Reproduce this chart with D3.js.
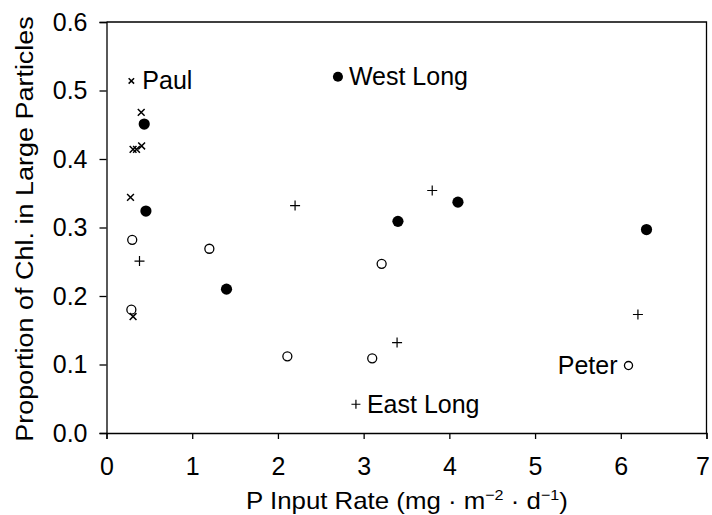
<!DOCTYPE html>
<html>
<head>
<meta charset="utf-8">
<script src="https://cdn.jsdelivr.net/npm/d3@7"></script>
<style>
    body { margin: 0; background: #fff; }
    svg { display: block; }
    text { font-family: "Liberation Sans", Arial, sans-serif; fill: #000; }
</style>
</head>
<body>
<svg id="chart" width="712" height="515"></svg>
<script>
// values
var westLong = [[0.44, 0.451], [0.46, 0.324], [1.40, 0.210], [3.40, 0.309], [4.10, 0.337], [6.30, 0.297]];
var eastLong = [[0.385, 0.251], [2.20, 0.332], [3.80, 0.354], [3.39, 0.132], [6.20, 0.173]];
var paul = [[0.405, 0.468], [0.31, 0.414], [0.35, 0.414], [0.41, 0.419], [0.28, 0.344], [0.31, 0.170]];
var peter = [[0.30, 0.282], [1.20, 0.269], [0.29, 0.180], [3.21, 0.247], [2.11, 0.112], [3.10, 0.109]];

// in-plot labels: name, marker, x, y
var labels = [
    ["Paul", "cross", 0.29, 0.514],
    ["West Long", "dot", 2.70, 0.520],
    ["East Long", "plus", 2.91, 0.042],
    ["Peter", "ring", 6.09, 0.0985]
];

var xTicks = [0, 1, 2, 3, 4, 5, 6, 7];
var yTicks = [0.0, 0.1, 0.2, 0.3, 0.4, 0.5, 0.6];

var svg = d3.select("#chart");

var x = d3.scaleLinear().domain([0, 7]).range([106.5, 706.5]);
var y = d3.scaleLinear().domain([0, 0.6]).range([433, 22]);

// frame (top and right)
svg.append("path")
    .attr("d", "M" + x(0) + "," + y(0.6) + "H" + x(7) + "V" + y(0))
    .attr("fill", "none")
    .attr("stroke", "#000")
    .attr("stroke-width", 1.3);

var xAxis = svg.append("g")
    .attr("transform", "translate(0," + y(0) + ")")
    .call(d3.axisBottom(x).tickValues(xTicks).tickSize(6).tickPadding(18).tickFormat(d3.format("d")));

var yAxis = svg.append("g")
    .attr("transform", "translate(" + x(0) + ",0)")
    .call(d3.axisLeft(y).tickValues(yTicks).tickSize(7).tickPadding(12).tickFormat(d3.format(".1f")));

[xAxis, yAxis].forEach(function (g) {
    g.selectAll("path, line").attr("stroke", "#000").attr("stroke-width", 1.3);
    g.selectAll("text")
        .style("font-size", "25px")
        .style("font-family", "'Liberation Sans', Arial, sans-serif")
        .attr("fill", "#000");
});

// keep the last x label inside the page
xAxis.selectAll(".tick text")
    .attr("dx", function (d) { return d === 7 ? -4 : 0; });

// stretch a title horizontally to the width it has in the figure
function stretch(node, cx, cy, width, rot) {
    var w = node.getBBox().width;
    var sx = width / w;
    d3.select(node).attr("transform",
        "translate(" + cx + "," + cy + ") rotate(" + rot + ") scale(" + sx + ",1)");
}

// axis titles
var xt = svg.append("text")
    .attr("text-anchor", "middle")
    .style("font-size", "24px");
xt.append("tspan").text("P Input Rate (mg \u00b7 m");
xt.append("tspan").attr("dy", -9).style("font-size", "15px").text("\u22122");
xt.append("tspan").attr("dy", 9).text(" \u00b7 d");
xt.append("tspan").attr("dy", -9).style("font-size", "15px").text("\u22121");
xt.append("tspan").attr("dy", 9).text(")");
stretch(xt.node(), 407, 509, 322, 0);

var yt = svg.append("text")
    .attr("text-anchor", "middle")
    .style("font-size", "24px")
    .text("Proportion of Chl. in Large Particles");
stretch(yt.node(), 33, 229, 426, -90);

function marker(sel, kind, s) {
    sel.each(function () {
        var g = d3.select(this);
        if (kind === "dot") {
            g.append("circle").attr("r", 5.6 * s).attr("fill", "#000");
        } else if (kind === "ring") {
            g.append("circle").attr("r", 4.5 * s).attr("fill", "#fff")
                .attr("stroke", "#000").attr("stroke-width", 1.3);
        } else if (kind === "plus") {
            var h = 5 * s;
            g.append("path").attr("d", "M" + (-h) + ",0H" + h + "M0," + (-h) + "V" + h)
                .attr("stroke", "#000").attr("stroke-width", 1.2);
        } else {
            var c = 3.4 * s;
            g.append("path").attr("d", "M" + (-c) + "," + (-c) + "L" + c + "," + c + "M" + (-c) + "," + c + "L" + c + "," + (-c))
                .attr("stroke", "#000").attr("stroke-width", 1.5);
        }
    });
}

var series = [[peter, "ring"], [eastLong, "plus"], [westLong, "dot"], [paul, "cross"]];

series.forEach(function (sr) {
    svg.append("g")
        .selectAll("g")
        .data(sr[0])
        .enter().append("g")
        .attr("transform", function (d) {
            return "translate(" + x(d[0]) + "," + y(d[1]) + ")";
        })
        .call(marker, sr[1], 1);
});

var lab = svg.append("g")
    .selectAll("g")
    .data(labels)
    .enter().append("g")
    .attr("transform", function (d) {
        return "translate(" + x(d[2]) + "," + y(d[3]) + ")";
    });

lab.each(function (d) {
    d3.select(this).call(marker, d[1], d[1] === "cross" ? 0.8 : 0.9);
});

lab.append("text")
    .attr("x", function (d) { return d[1] === "ring" ? -11 : 11; })
    .attr("y", 8.5)
    .attr("text-anchor", function (d) { return d[1] === "ring" ? "end" : "start"; })
    .style("font-size", "25px")
    .text(function (d) { return d[0]; });
</script>
</body>
</html>
